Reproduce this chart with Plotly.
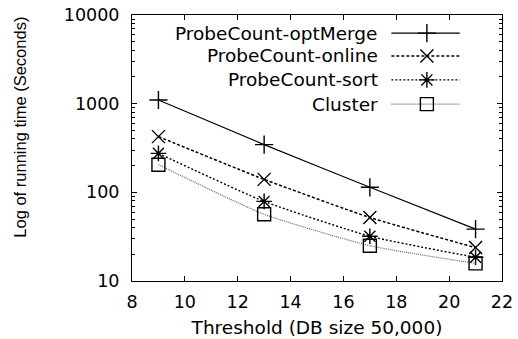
import plotly.graph_objects as go

thresholds = [9, 13, 17, 21]
opt_merge = [1100, 345, 114, 38.5]
online = [425, 140, 52, 23.8]
sort_vals = [275, 79, 32, 18.5]
cluster = [205, 56.5, 25, 15.8]

series_names = ["ProbeCount-optMerge", "ProbeCount-online", "ProbeCount-sort", "Cluster"]
series_vals = [opt_merge, online, sort_vals, cluster]
symbols = ["cross-thin-open", "x-thin-open", "asterisk-open", "square-open"]
dashes = ["solid", "3px,2px", "2px,2px", "1px,1px"]
line_colors = ["black", "black", "black", "#666666"]
line_widths = [1.2, 1.5, 1.4, 1.2]

x_ticks = [8, 10, 12, 14, 16, 18, 20, 22]
y_ticks = [10, 100, 1000, 10000]
y_minor = [m * 10 ** k for k in range(1, 4) for m in range(2, 10)]

HFONT = "DejaVu Sans"

fig = go.Figure()
for name, vals, sym, dash, lc, lw in zip(series_names, series_vals, symbols, dashes, line_colors, line_widths):
    fig.add_trace(go.Scatter(
        x=thresholds, y=vals, name=name, mode="lines",
        line=dict(color=lc, width=lw, dash=dash, shape="spline", smoothing=0.5),
        showlegend=False))
    fig.add_trace(go.Scatter(
        x=thresholds, y=vals, name=name, mode="markers",
        marker=dict(symbol=sym, size=13, color="black", line=dict(color="black", width=1.4)),
        showlegend=False))

# manual legend (symbol to the right of the text, as in gnuplot)
leg_rows = [0.932, 0.846, 0.756, 0.665]
leg_text_x = 0.669
leg_x0, leg_xm, leg_x1 = 0.701, 0.797, 0.886
for name, sym, dash, lc, lw, ry in zip(series_names, symbols, dashes, line_colors, line_widths, leg_rows):
    fig.add_trace(go.Scatter(
        x=[leg_x0, leg_x1], y=[ry, ry], mode="lines", xaxis="x2", yaxis="y2",
        line=dict(color=lc, width=lw, dash=dash), showlegend=False, hoverinfo="skip"))
    fig.add_trace(go.Scatter(
        x=[leg_xm], y=[ry], mode="markers", xaxis="x2", yaxis="y2",
        marker=dict(symbol=sym, size=13, color="black", line=dict(color="black", width=1.4)),
        showlegend=False, hoverinfo="skip"))
    fig.add_annotation(x=leg_text_x, y=ry, xref="x2", yref="y2", text=name, showarrow=False,
                       xanchor="right", yanchor="middle",
                       font=dict(family=HFONT, size=18.5, color="black"))

# y-axis title placed as in the gnuplot original (shifted upward)
fig.add_annotation(x=-0.305, y=0.577, xref="paper", yref="paper",
                   text="Log of running time (Seconds)", textangle=-90, showarrow=False,
                   xanchor="center", yanchor="middle",
                   font=dict(family="Liberation Sans", size=16.5, color="black"))

fig.update_layout(
    width=518, height=339,
    margin=dict(l=132, r=16, t=15, b=58),
    paper_bgcolor="white", plot_bgcolor="white",
    showlegend=False,
    xaxis=dict(
        range=[8, 22], tickvals=x_ticks, ticktext=[str(v) for v in x_ticks],
        ticks="inside", ticklen=5, tickcolor="black", tickwidth=1,
        showline=True, linecolor="black", linewidth=1, mirror="ticks",
        showgrid=False, zeroline=False, automargin=False, ticklabelstandoff=5,
        tickfont=dict(family=HFONT, size=17.5, color="black"),
        title=dict(text="Threshold (DB size 50,000)", font=dict(family=HFONT, size=18.5, color="black"), standoff=10),
    ),
    yaxis=dict(
        type="log", range=[1, 4], tickvals=y_ticks, ticktext=[str(v) for v in y_ticks],
        ticks="inside", ticklen=5, tickcolor="black", tickwidth=1,
        minor=dict(tickvals=y_minor, ticks="inside", ticklen=3, tickcolor="black", tickwidth=1),
        showline=True, linecolor="black", linewidth=1, mirror="ticks",
        showgrid=False, zeroline=False, automargin=False, ticklabelstandoff=8,
        tickfont=dict(family=HFONT, size=17.5, color="black"),
    ),
    xaxis2=dict(overlaying="x", range=[0, 1], visible=False, anchor="y2"),
    yaxis2=dict(overlaying="y", range=[0, 1], visible=False, anchor="x2"),
)

fig.write_html("out.html", config={"displayModeBar": False},
               post_script="document.body.style.margin='0px';document.body.style.overflow='hidden';")
